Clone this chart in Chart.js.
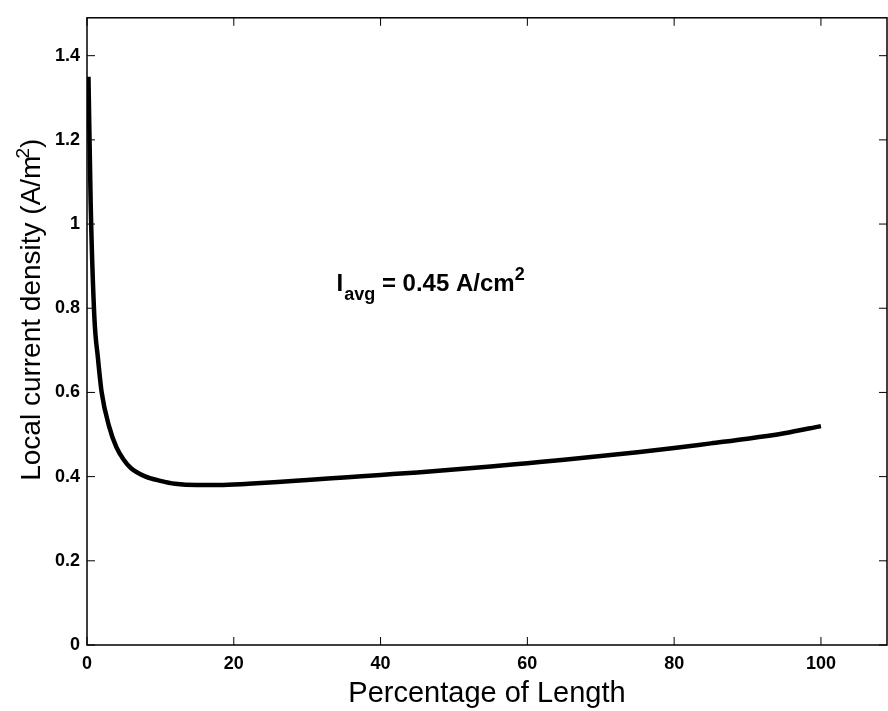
<!DOCTYPE html>
<html>
<head>
<meta charset="utf-8">
<script src="https://cdn.jsdelivr.net/npm/chart.js@4"></script>
<style>
html,body{margin:0;padding:0;background:#fff;}
#wrap{width:888px;height:711px;}
</style>
</head>
<body>
<div id="wrap"><canvas id="c" width="888" height="711"></canvas></div>
<script>
const xValues = [0.2, 0.5, 1, 1.5, 2, 3, 4, 5, 6, 8, 10, 12, 15, 18, 22, 26, 30, 35, 40, 45, 50, 55, 60, 65, 70, 75, 80, 85, 90, 95, 100];
const yValues = [1.35, 1.05, 0.78, 0.68, 0.6, 0.52, 0.47, 0.44, 0.42, 0.40, 0.39, 0.383, 0.38, 0.38, 0.383, 0.387, 0.392, 0.398, 0.404, 0.41, 0.417, 0.424, 0.432, 0.44, 0.449, 0.458, 0.468, 0.479, 0.49, 0.503, 0.52];
const xTicks = [0, 20, 40, 60, 80, 100];
const yTicks = [0, 0.2, 0.4, 0.6, 0.8, 1.0, 1.2, 1.4];
const xTitle = "Percentage of Length";
const yTitleMain = "Local current density (A/m";
const yTitleSup = "2";
const yTitleEnd = ")";
const note = {x: 34, y: 0.84};

const FONT = "'Liberation Sans', Arial, sans-serif";

const boxTicks = {
  id: 'boxTicks',
  afterDraw(chart) {
    const {ctx, chartArea: a, scales: {x, y}} = chart;
    ctx.save();
    ctx.strokeStyle = '#000';
    ctx.lineWidth = 1.5;
    ctx.strokeRect(a.left, a.top, a.right - a.left, a.bottom - a.top);
    ctx.lineWidth = 1;
    const L = 8;
    xTicks.forEach(v => {
      const px = x.getPixelForValue(v);
      ctx.beginPath();
      ctx.moveTo(px, a.bottom); ctx.lineTo(px, a.bottom - L);
      ctx.moveTo(px, a.top); ctx.lineTo(px, a.top + L);
      ctx.stroke();
    });
    yTicks.forEach(v => {
      const py = y.getPixelForValue(v);
      ctx.beginPath();
      ctx.moveTo(a.left, py); ctx.lineTo(a.left + L, py);
      ctx.moveTo(a.right, py); ctx.lineTo(a.right - L, py);
      ctx.stroke();
    });
    ctx.fillStyle = '#000';
    ctx.textBaseline = 'alphabetic';
    ctx.textAlign = 'left';
    // annotation
    const px = x.getPixelForValue(note.x);
    const py = y.getPixelForValue(note.y);
    ctx.font = "bold 24px " + FONT;
    let cx = px;
    ctx.fillText('I', cx, py);
    cx += ctx.measureText('I').width + 1;
    ctx.font = "bold 18px " + FONT;
    ctx.fillText('avg', cx, py + 9);
    cx += ctx.measureText('avg').width;
    ctx.font = "bold 24px " + FONT;
    ctx.fillText(' = 0.45 A/cm', cx, py);
    cx += ctx.measureText(' = 0.45 A/cm').width;
    ctx.font = "bold 18px " + FONT;
    ctx.fillText('2', cx, py - 11);
    // y axis title (rotated), centered near the 0.8 level
    ctx.translate(40, y.getPixelForValue(0.8));
    ctx.rotate(-Math.PI / 2);
    ctx.font = "28px " + FONT;
    const w1 = ctx.measureText(yTitleMain).width;
    const w3 = ctx.measureText(yTitleEnd).width;
    ctx.font = "19px " + FONT;
    const w2 = ctx.measureText(yTitleSup).width;
    let tx = -(w1 + w2 + w3) / 2;
    ctx.font = "28px " + FONT;
    ctx.fillText(yTitleMain, tx, 0);
    tx += w1;
    ctx.font = "19px " + FONT;
    ctx.fillText(yTitleSup, tx - 3, -11);
    tx += w2 - 3;
    ctx.font = "28px " + FONT;
    ctx.fillText(yTitleEnd, tx, 0);
    ctx.restore();
  }
};

new Chart(document.getElementById('c'), {
  type: 'line',
  data: {
    datasets: [{
      data: xValues.map((v, i) => ({x: v, y: yValues[i]})),
      borderColor: '#000',
      borderWidth: 4.5,
      pointRadius: 0,
      fill: false,
      cubicInterpolationMode: 'monotone'
    }]
  },
  options: {
    responsive: false,
    animation: false,
    devicePixelRatio: 1,
    layout: {padding: {top: 7, right: 1, left: 0, bottom: 0}},
    plugins: {legend: {display: false}, tooltip: {enabled: false}},
    scales: {
      x: {
        type: 'linear', min: 0, max: 109,
        afterBuildTicks(s) { s.ticks = xTicks.map(v => ({value: v})); },
        afterFit(s) { s.height = 66; },
        grid: {display: false, drawTicks: false},
        border: {display: false},
        ticks: {color: '#000', font: {family: FONT, size: 18, weight: 'bold'}, padding: 8, maxRotation: 0,
                callback: v => String(v)},
        title: {display: true, text: xTitle, color: '#000', font: {family: FONT, size: 29}, padding: {top: 0, bottom: 0}}
      },
      y: {
        type: 'linear', min: 0, max: 1.49,
        afterBuildTicks(s) { s.ticks = yTicks.map(v => ({value: v})); },
        afterFit(s) { s.width = 87; },
        grid: {display: false, drawTicks: false},
        border: {display: false},
        ticks: {color: '#000', font: {family: FONT, size: 18, weight: 'bold'}, padding: 7,
                callback: v => (Math.round(v * 10) / 10).toString()}
      }
    }
  },
  plugins: [boxTicks]
});
</script>
</body>
</html>
